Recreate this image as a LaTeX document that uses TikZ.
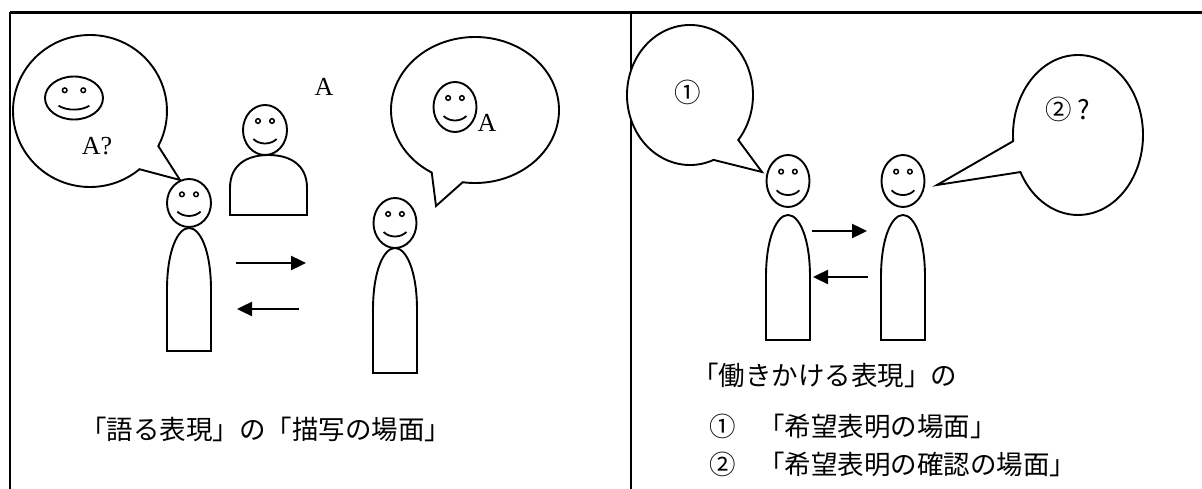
\documentclass[tikz,border=0pt]{standalone}
\usepackage{fontspec}
\setmainfont{Liberation Serif}
\newfontfamily\jpfont{Noto Sans CJK JP}
\usetikzlibrary{arrows.meta,shapes.geometric}

% a smiling face: name, centre x, centre y, half width, half height
\newcommand\smiley[5]{%
  \node[facebox, minimum width=2*#4, minimum height=2*#5] (#1) at (#2,#3) {};
  \draw[eye] (#2-0.32*#4,#3-0.36*#5) circle (2.3);
  \draw[eye] (#2+0.32*#4,#3-0.36*#5) circle (2.3);
  \draw[line width=1.8pt] (#2-0.53*#4,#3+0.36*#5)
    .. controls (#2-0.25*#4,#3+0.6*#5) and (#2+0.25*#4,#3+0.6*#5) .. (#2+0.53*#4,#3+0.36*#5);
}
% a standing body: centre x, top y, bottom y
\newcommand\standbody[3]{%
  \draw[figline] (#1-22,#3) -- (#1-22,#2+62)
    .. controls (#1-22,#2+22) and (#1-11,#2) .. (#1,#2)
    .. controls (#1+11,#2) and (#1+22,#2+22) .. (#1+22,#2+62)
    -- (#1+22,#3) -- cycle;
}

\begin{document}
\begin{tikzpicture}[x=1pt,y=-1pt,
  facebox/.style={ellipse, draw, line width=1.9pt, inner sep=0pt, fill=white},
  eye/.style={line width=1.5pt},
  figline/.style={draw, line width=1.9pt, fill=white},
  bubble/.style={draw, line width=1.9pt, fill=white, line join=miter},
  frame/.style={line width=2.2pt},
  talk/.style={line width=2.4pt, -{Triangle[length=15pt,width=14pt]}},
  latin/.style={font=\fontsize{26}{26}\selectfont, inner sep=0pt},
  jp/.style={font=\jpfont\fontsize{26.5}{26.5}\selectfont, inner sep=0pt, anchor=west}]
\useasboundingbox (0,0) rectangle (1202,489);

% frame of the two panels
\draw[line width=3pt] (10,12.5) -- (1202,12.5);
\draw[frame] (10,12) -- (10,489);
\draw[frame] (631,12) -- (631,489);

% ---------- left panel ----------
% speech bubble of the speaker
\draw[bubble] (90,111) ++(50:77 and 76)
  arc[start angle=50, end angle=387.5, x radius=77, y radius=76]
  -- (180,180) -- cycle;
\smiley{bface}{74}{98}{29}{21.5}
\node[latin] (aq) at (97,146) {A?};

% listener seated behind
\draw[figline] (230,215) -- (230,188)
  .. controls (230,164) and (248,155) .. (268.5,155)
  .. controls (289,155) and (307,164) .. (307,188)
  -- (307,215) -- cycle;
\smiley{lface}{265}{130}{22}{25}
\node[latin] (la) at (324,87) {A};

% speaker on the left
\standbody{189}{228}{351}
\smiley{s1}{189}{203}{22}{24}

% speaker on the right and its bubble
\draw[bubble] (475,110) ++(121:84 and 73)
  arc[start angle=121, end angle=458.4, x radius=84, y radius=73]
  -- (436,206) -- cycle;
\smiley{rface}{455}{107}{21.5}{25}
\node[latin] (ra) at (487,123) {A};
\standbody{395}{248}{373}
\smiley{s2}{395}{223}{21.5}{25}

% exchange arrows
\coordinate (la1) at (236,263); \coordinate (la2) at (306,263);
\coordinate (lb1) at (299,309); \coordinate (lb2) at (237,309);
\draw[talk] (la1) -- (la2);
\draw[talk] (lb1) -- (lb2);

\node[jp] (ltext) at (80,429) {「語る表現」の「描写の場面」};

% ---------- right panel ----------
\draw[bubble] (690,95) ++(68:63 and 70)
  arc[start angle=68, end angle=400, x radius=63, y radius=70]
  -- (762,172) -- cycle;
\node[jp, anchor=center] (n1) at (688,92) {①};

\draw[bubble] (1078,135) ++(175.6:65 and 80)
  arc[start angle=175.6, end angle=512.4, x radius=65, y radius=80]
  -- (937,185) -- cycle;
\node[jp, anchor=center] (n2) at (1068,109) {② ?};

\standbody{788}{215}{340}
\smiley{r1}{788}{181}{21.5}{26}
\standbody{903}{215}{340}
\smiley{r2}{903}{181}{21.5}{26}

\coordinate (ra1) at (812,231); \coordinate (ra2) at (867,231);
\coordinate (rb1) at (868,277); \coordinate (rb2) at (813,277);
\draw[talk] (ra1) -- (ra2);
\draw[talk] (rb1) -- (rb2);

\node[jp] (t1) at (692,375) {「働きかける表現」の};
\node[jp] (t2a) at (709,426) {①};
\node[jp] (t2b) at (758,426) {「希望表明の場面」};
\node[jp] (t3a) at (709,464) {②};
\node[jp] (t3b) at (758,464) {「希望表明の確認の場面」};
\end{tikzpicture}
\end{document}
